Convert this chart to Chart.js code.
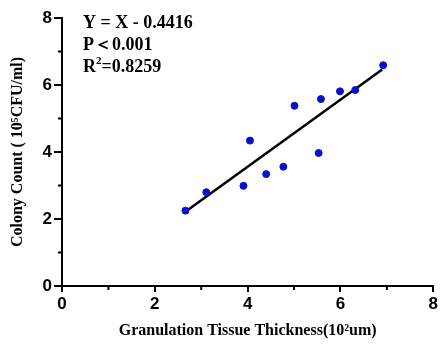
<!DOCTYPE html>
<html>
<head>
<meta charset="utf-8">
<script src="https://cdn.jsdelivr.net/npm/chart.js@4"></script>
<style>
  html, body { margin: 0; padding: 0; background: #fff; }
  #wrap { width: 440px; height: 347px; }
</style>
</head>
<body>
<div id="wrap"><canvas id="c"></canvas></div>
<script>
// thickness (10^2 um) vs colony count (10^5 CFU/ml)
const thickness = [2.66, 3.11, 3.91, 4.05, 4.40, 4.77, 5.01, 5.53, 5.58, 5.99, 6.32, 6.92];
const colonies  = [2.25, 2.80, 2.99, 4.34, 3.34, 3.56, 5.38, 3.97, 5.58, 5.81, 5.85, 6.59];
const fitX = [2.65, 6.90];
const fitY = [2.21, 6.46];
const xTicks = [0, 2, 4, 6, 8];
const yTicks = [0, 2, 4, 6, 8];
const minorTicks = [1, 3, 5, 7];
const notes = ["Y = X - 0.4416", "P\uFF1C0.001", "R2=0.8259"];

const tickFont = { family: "Liberation Sans", size: 17, weight: "bold" };
const titleFont = { family: "Liberation Serif", size: 16, weight: "bold" };

// minor ticks + the equation text
const extras = {
  id: "extras",
  afterDraw(chart) {
    const ctx = chart.ctx;
    const xs = chart.scales.x, ys = chart.scales.y;
    ctx.save();
    ctx.strokeStyle = "#000";
    ctx.lineWidth = 2;
    minorTicks.forEach(v => {
      const px = xs.getPixelForValue(v);
      ctx.beginPath(); ctx.moveTo(px, xs.top); ctx.lineTo(px, xs.top + 4); ctx.stroke();
      const py = ys.getPixelForValue(v);
      ctx.beginPath(); ctx.moveTo(ys.right, py); ctx.lineTo(ys.right - 4, py); ctx.stroke();
    });
    ctx.fillStyle = "#000";
    ctx.font = "bold 18px 'Liberation Serif'";
    ctx.textBaseline = "middle";
    const x0 = 83;
    ctx.fillText(notes[0], x0, 23);
    ctx.fillText(notes[1], x0, 45);
    ctx.fillText("R", x0, 67);
    const w = ctx.measureText("R").width;
    ctx.font = "bold 11px 'Liberation Serif'";
    ctx.fillText("2", x0 + w, 61);
    const w2 = ctx.measureText("2").width;
    ctx.font = "bold 18px 'Liberation Serif'";
    ctx.fillText(notes[2].slice(2), x0 + w + w2, 67);
    ctx.restore();
  }
};

new Chart(document.getElementById("c"), {
  type: "scatter",
  data: {
    datasets: [{
      data: thickness.map((v, i) => ({ x: v, y: colonies[i] })),
      backgroundColor: "#0a10c8",
      borderColor: "#0a10c8",
      pointRadius: 3.5,
      pointHoverRadius: 3.5
    }, {
      type: "line",
      data: fitX.map((v, i) => ({ x: v, y: fitY[i] })),
      borderColor: "#000",
      borderWidth: 2.5,
      pointRadius: 0,
      fill: false
    }]
  },
  options: {
    responsive: true,
    maintainAspectRatio: false,
    animation: false,
    events: [],
    layout: { padding: { top: 18, right: 6, left: 8, bottom: 0 } },
    plugins: { legend: { display: false }, tooltip: { enabled: false } },
    scales: {
      x: {
        type: "linear", min: 0, max: 8,
        afterBuildTicks: s => { s.ticks = xTicks.map(v => ({ value: v })); },
        afterFit: s => { s.height = 61; },
        ticks: { font: tickFont, color: "#000", padding: 2 },
        grid: { drawOnChartArea: false, color: "#000", tickLength: 6, tickWidth: 2, lineWidth: 2 },
        border: { color: "#000", width: 2 },
        title: { display: true, text: "Granulation Tissue Thickness(10\u00B2um)", font: titleFont, color: "#000", padding: { top: 0, bottom: 7 } }
      },
      y: {
        type: "linear", min: 0, max: 8,
        afterBuildTicks: s => { s.ticks = yTicks.map(v => ({ value: v })); },
        afterFit: s => { s.width = 54; },
        ticks: { font: tickFont, color: "#000", padding: 2 },
        grid: { drawOnChartArea: false, color: "#000", tickLength: 8, tickWidth: 2, lineWidth: 2 },
        border: { color: "#000", width: 2 },
        title: { display: true, text: "Colony Count ( 10\u2075CFU/ml)", font: titleFont, color: "#000", padding: 0 }
      }
    }
  },
  plugins: [extras]
});
</script>
</body>
</html>
